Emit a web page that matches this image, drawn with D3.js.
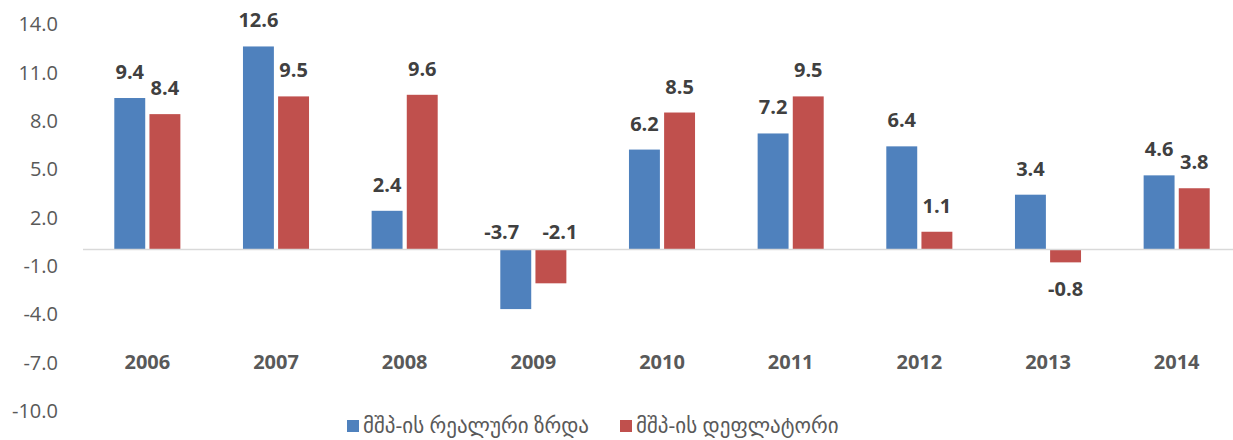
<!DOCTYPE html>
<html>
<head>
<meta charset="utf-8">
<script src="https://cdn.jsdelivr.net/npm/d3@7"></script>
<style>
  body { margin: 0; background: #fff; }
  svg { display: block; }
</style>
</head>
<body>
<svg id="chart"></svg>
<script>
// chart data
var years = ["2006", "2007", "2008", "2009", "2010", "2011", "2012", "2013", "2014"];
var real_growth = [9.4, 12.6, 2.4, -3.7, 6.2, 7.2, 6.4, 3.4, 4.6];
var deflator = [8.4, 9.5, 9.6, -2.1, 8.5, 9.5, 1.1, -0.8, 3.8];
var series_names = ["მშპ-ის რეალური ზრდა", "მშპ-ის დეფლატორი"];
var y_ticks = [14, 11, 8, 5, 2, -1, -4, -7, -10];

var width = 1233;
var height = 440;
var colors = ["#4F81BD", "#C0504D"];
var font = "'Open Sans', 'DejaVu Sans', sans-serif";

// labels of these years sit above the zero line instead of under the bar
var label_over_axis = ["2009"];

// plain hyphen minus, like the original
function fmt(v) {
    return v.toFixed(1);
}

var svg = d3.select("#chart")
    .attr("width", width)
    .attr("height", height)
    .attr("font-family", font);

var x = d3.scaleBand()
    .domain(years)
    .range([83, 1241]);

var inner = d3.scaleBand()
    .domain([0, 1])
    .range([31.3, x.bandwidth() - 31.3])
    .paddingInner(0.12);

var y = d3.scaleLinear()
    .domain([-10, 14])
    .range([410.6, 23.9]);

// y axis labels
var y_axis = d3.axisLeft(y)
    .tickValues(y_ticks)
    .tickFormat(fmt)
    .tickSize(0)
    .tickPadding(0);

svg.append("g")
    .attr("transform", "translate(58,0)")
    .call(y_axis)
    .call(g => g.select(".domain").remove())
    .selectAll("text")
    .attr("font-family", font)
    .attr("font-size", 20)
    .attr("fill", "#595959")
    .attr("dy", "0.35em");

var data = years.map((d, i) => ({year: d, vals: [real_growth[i], deflator[i]]}));

var groups = svg.selectAll(".year")
    .data(data)
    .enter()
    .append("g")
    .attr("class", "year")
    .attr("transform", d => "translate(" + x(d.year) + ",0)");

groups.selectAll("rect")
    .data(d => d.vals.map((v, k) => ({year: d.year, v: v, k: k})))
    .enter()
    .append("rect")
    .attr("x", d => inner(d.k))
    .attr("width", inner.bandwidth())
    .attr("y", d => y(Math.max(0, d.v)))
    .attr("height", d => Math.abs(y(d.v) - y(0)))
    .attr("fill", d => colors[d.k]);

// zero line
svg.append("line")
    .attr("x1", x.range()[0])
    .attr("x2", x.range()[1])
    .attr("y1", y(0))
    .attr("y2", y(0))
    .attr("stroke", "#D9D9D9")
    .attr("stroke-width", 1.5);

// value labels
groups.selectAll(".val")
    .data(d => d.vals.map((v, k) => ({year: d.year, v: v, k: k})))
    .enter()
    .append("text")
    .attr("class", "val")
    .attr("x", d => {
        let cx = inner(d.k) + inner.bandwidth() / 2;
        if (d.v < 0 && label_over_axis.indexOf(d.year) >= 0)
            cx += d.k == 0 ? -14 : 9;
        return cx;
    })
    .attr("y", d => {
        if (d.v >= 0) return y(d.v) - 19;
        if (label_over_axis.indexOf(d.year) >= 0) return y(0) - 10;
        return y(d.v) + 34;
    })
    .attr("text-anchor", "middle")
    .attr("font-size", 20)
    .attr("font-weight", "bold")
    .attr("fill", "#404040")
    .text(d => fmt(d.v));

// category labels
svg.selectAll(".cat")
    .data(years)
    .enter()
    .append("text")
    .attr("class", "cat")
    .attr("x", d => x(d) + x.bandwidth() / 2)
    .attr("y", y(-7))
    .attr("dy", "0.35em")
    .attr("text-anchor", "middle")
    .attr("font-size", 20)
    .attr("font-weight", "bold")
    .attr("fill", "#595959")
    .text(d => d);

// legend
var legend_x = [347, 620];
var legend = svg.selectAll(".legend")
    .data(series_names)
    .enter()
    .append("g")
    .attr("class", "legend")
    .attr("transform", (d, i) => "translate(" + legend_x[i] + ",420)");

legend.append("rect")
    .attr("width", 12)
    .attr("height", 12)
    .attr("fill", (d, i) => colors[i]);

legend.append("text")
    .attr("x", 16)
    .attr("y", 6)
    .attr("dy", "0.35em")
    .attr("font-size", 21)
    .attr("fill", "#595959")
    .text(d => d);
</script>
</body>
</html>
